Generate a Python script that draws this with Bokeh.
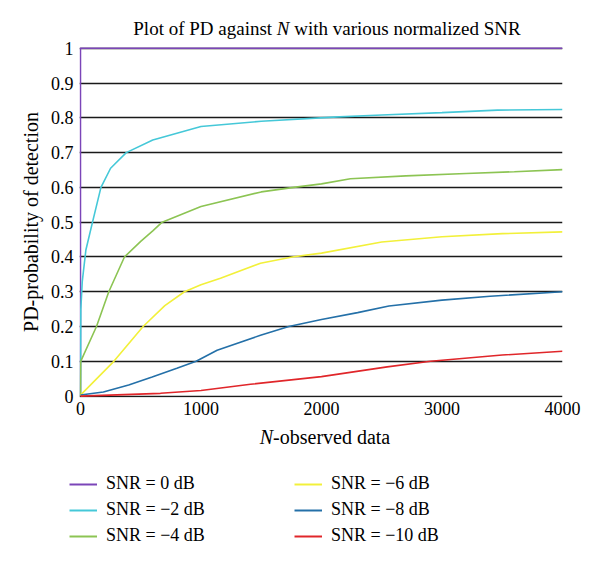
from bokeh.plotting import figure
from bokeh.models import (Range1d, FixedTicker, CustomJSTickFormatter, Legend,
                          LegendItem, Div)
from bokeh.layouts import column
from bokeh.embed import file_html
from bokeh.resources import INLINE

# ---- data ----
y_ticks = [0, 0.1, 0.2, 0.3, 0.4, 0.5, 0.6, 0.7, 0.8, 0.9, 1.0]
x_ticks = [0, 1000, 2000, 3000, 4000]

n_0 = [0, 0, 4000]
pd_0 = [0, 1, 1]

n_m2 = [0, 3, 15, 45, 100, 170, 250, 380, 600, 1000, 1500, 2100, 2500, 3000, 3460, 4000]
pd_m2 = [0, 0.25, 0.33, 0.42, 0.5, 0.6, 0.655, 0.7, 0.736, 0.775, 0.79, 0.802, 0.808, 0.815, 0.822, 0.824]

n_m4 = [0, 2, 133, 235, 365, 500, 600, 678, 1000, 1500, 1770, 2000, 2240, 2700, 3200, 3600, 4000]
pd_m4 = [0, 0.1, 0.2, 0.3, 0.4, 0.445, 0.475, 0.5, 0.545, 0.587, 0.6, 0.61, 0.625, 0.633, 0.64, 0.645, 0.651]

n_m6 = [0, 277, 520, 700, 863, 1000, 1162, 1494, 1757, 2000, 2500, 3000, 3500, 4000]
pd_m6 = [0.003, 0.1, 0.2, 0.26, 0.3, 0.32, 0.339, 0.382, 0.4, 0.411, 0.443, 0.458, 0.467, 0.472]

n_m8 = [0, 190, 400, 595, 800, 960, 1134, 1494, 1729, 2000, 2300, 2560, 3000, 3400, 4000]
pd_m8 = [0.003, 0.012, 0.032, 0.055, 0.08, 0.1, 0.132, 0.175, 0.2, 0.22, 0.24, 0.259, 0.276, 0.287, 0.30]

n_m10 = [0, 664, 1000, 1411, 2000, 2545, 2905, 3500, 4000]
pd_m10 = [0, 0.008, 0.016, 0.034, 0.056, 0.084, 0.1, 0.118, 0.129]

labels = ["SNR = 0 dB", "SNR = \u22122 dB", "SNR = \u22124 dB",
          "SNR = \u22126 dB", "SNR = \u22128 dB", "SNR = \u221210 dB"]
colors = ["#7B45B8", "#45C8D8", "#8CC453", "#F2F03A", "#2470A8", "#E0262A"]

FONT = "Liberation Serif"
W = 600

# ---- title (HTML so that N can be italic) ----
title_div = Div(
    text=("<div style=\"width:%dpx;box-sizing:border-box;padding-left:54px;"
          "text-align:center;font-family:'Liberation Serif';font-size:19px;"
          "line-height:20px;padding-top:19px;color:black;white-space:nowrap\">"
          "Plot of PD against <i>N</i> with various normalized SNR</div>") % W,
    width=W, height=40, margin=0)

# ---- main plot ----
p = figure(width=W, height=385, output_backend="svg", toolbar_location=None,
           x_range=Range1d(-8, 4000), y_range=Range1d(-0.004, 1.005),
           min_border_left=79, min_border_right=38, min_border_top=6,
           min_border_bottom=28, margin=0)
p.frame_align = False
p.outline_line_color = None
p.background_fill_color = "white"

series = [(n_0, pd_0), (n_m2, pd_m2), (n_m4, pd_m4),
          (n_m6, pd_m6), (n_m8, pd_m8), (n_m10, pd_m10)]
for (xs, ys), c in zip(series, colors):
    p.line(xs, ys, line_color=c, line_width=1.6)

p.xaxis.ticker = FixedTicker(ticks=x_ticks)
p.yaxis.ticker = FixedTicker(ticks=y_ticks)
p.yaxis.formatter = CustomJSTickFormatter(
    code="return tick.toFixed(1).replace(/\\.0$/, '');")
for ax in (p.xaxis[0], p.yaxis[0]):
    ax.axis_line_color = None
    ax.major_tick_line_color = None
    ax.minor_tick_line_color = None
    ax.major_tick_out = 0
    ax.major_tick_in = 0
    ax.major_label_text_font = FONT
    ax.major_label_text_font_size = "18px"
    ax.major_label_text_color = "black"
p.xaxis.major_label_standoff = 4
p.yaxis.major_label_standoff = 6
p.yaxis.axis_label = "PD-probability of detection"
p.yaxis.axis_label_text_font = FONT
p.yaxis.axis_label_text_font_size = "20px"
p.yaxis.axis_label_text_font_style = "normal"
p.yaxis.axis_label_text_color = "black"
p.yaxis.axis_label_standoff = 6

p.xgrid.grid_line_color = None
p.ygrid.grid_line_color = "#1a1a1a"
p.ygrid.grid_line_width = 1.4

# ---- x axis label (HTML so that N can be italic) ----
xlabel_div = Div(
    text=("<div style=\"width:%dpx;box-sizing:border-box;padding-left:50px;"
          "text-align:center;font-family:'Liberation Serif';font-size:20px;"
          "line-height:24px;color:black;white-space:nowrap\">"
          "<i>N</i>-observed data</div>") % W,
    width=W, height=24, margin=0)

# ---- legend panel (hidden copies of the series act as legend keys) ----
p2 = figure(width=W, height=112, output_backend="svg", toolbar_location=None,
            x_axis_type=None, y_axis_type=None, x_range=Range1d(0, 4000),
            y_range=Range1d(0, 1), min_border=0, margin=0)
p2.frame_align = False
p2.outline_line_color = None
p2.xgrid.visible = False
p2.ygrid.visible = False
keys = []
for (xs, ys), c in zip(series, colors):
    r = p2.line(xs, ys, line_color=c, line_width=2)
    r.visible = False
    keys.append(r)


def make_legend(idx, loc):
    items = [LegendItem(label=labels[i], renderers=[keys[i]]) for i in idx]
    lg = Legend(items=items, location=loc, orientation="vertical",
                glyph_width=28, glyph_height=20, label_height=20,
                label_standoff=9, spacing=5, padding=5, margin=0,
                border_line_color=None, background_fill_alpha=0,
                inactive_fill_alpha=0,
                label_text_font=FONT, label_text_font_size="18px",
                label_text_color="black")
    p2.add_layout(lg, "center")


make_legend([0, 1, 2], (69, 15))
make_legend([3, 4, 5], (294, 15))

layout = column(title_div, p, xlabel_div, p2, spacing=0)

open("out.html", "w").write(file_html(layout, INLINE))
